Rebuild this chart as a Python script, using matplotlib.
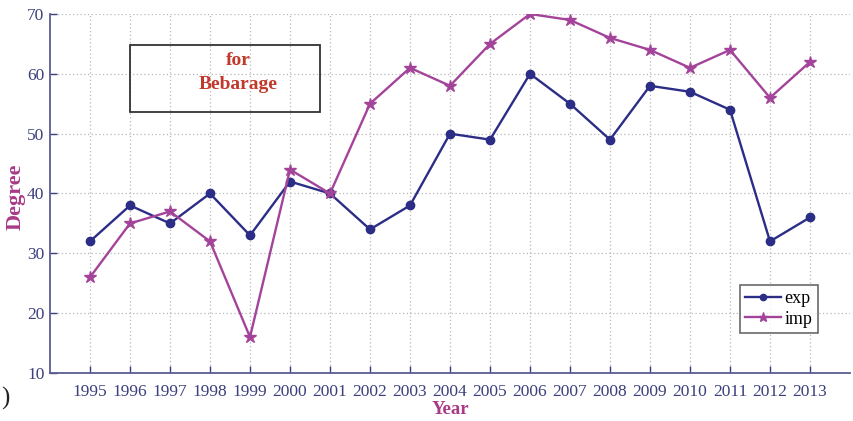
import matplotlib
matplotlib.use("Agg")
import matplotlib.pyplot as plt

years = list(range(1995, 2014))
exp_vals = [32, 38, 35, 40, 33, 42, 40, 34, 38, 50, 49, 60, 55, 49, 58, 57, 54, 32, 36]
imp_vals = [26, 35, 37, 32, 16, 44, 40, 55, 61, 58, 65, 70, 69, 66, 64, 61, 64, 56, 62]
y_ticks = [10, 20, 30, 40, 50, 60, 70]

tick_color = "#3c3f7c"
label_color = "#a83a86"
exp_color = "#2b2d86"
imp_color = "#a3449a"

plt.rcParams["font.family"] = ["Liberation Serif", "DejaVu Serif"]

fig = plt.figure(figsize=(8.54, 4.21), dpi=100)
ax = fig.add_axes([50 / 854, 1 - 373 / 421, 800 / 854, (373 - 14) / 421])

ax.plot(years, exp_vals, color=exp_color, lw=1.7, marker="o", ms=6,
        mfc=exp_color, mec=exp_color, label="exp", zorder=3)
ax.plot(years, imp_vals, color=imp_color, lw=1.7, marker="*", ms=9,
        mfc=imp_color, mec=imp_color, label="imp", zorder=3)

ax.set_xlim(1994, 2014)
ax.set_ylim(10, 70)
ax.set_xticks(years)
ax.set_xticklabels([str(y) for y in years])
ax.set_yticks(y_ticks)

ax.grid(True, color="#b8b8b8", linestyle=(0, (1, 2)), lw=0.9)
ax.tick_params(direction="in", colors=tick_color, labelsize=12.5, length=5,
               width=1)
for lbl in ax.get_xticklabels() + ax.get_yticklabels():
    lbl.set_color(tick_color)
ax.tick_params(axis="x", pad=8)
ax.tick_params(axis="y", pad=4)
for side in ("top", "right"):
    ax.spines[side].set_visible(False)
for side in ("left", "bottom"):
    ax.spines[side].set_color("#5b5d92")
    ax.spines[side].set_linewidth(1.3)

ax.set_xlabel("Year", color=label_color, fontsize=13.5, fontweight="bold",
              labelpad=1)
ax.set_ylabel("Degree", color=label_color, fontsize=16, fontweight="bold")
ax.yaxis.set_label_coords((26 - 50) / 800, (373 - 197) / 359)

# annotation box
box = plt.Rectangle((1996.0, 53.6), 4.75, 11.2, fill=False, ec="#333333",
                    lw=1.3, zorder=4)
ax.add_patch(box)
ax.text(1998.7, 62.2, "for", ha="center", va="center",
        color="#c0392b", fontsize=14, fontweight="bold", zorder=5)
ax.text(1998.7, 58.2, "Bebarage", ha="center", va="center",
        color="#c0392b", fontsize=14, fontweight="bold", zorder=5)

leg = ax.legend(loc="lower right", bbox_to_anchor=(0.96, 0.111),
                fontsize=13, frameon=True, fancybox=False, handlelength=2.0,
                handletextpad=0.2, borderpad=0.3, labelspacing=0.2,
                borderaxespad=0, markerscale=0.75)
leg.get_frame().set_edgecolor("#444444")
leg.get_frame().set_linewidth(1.2)

fig.text(1 / 854, 1 - 398 / 421, ")", ha="left", va="center",
         fontsize=18, color="#222222")

fig.savefig("out.png", dpi=100)
